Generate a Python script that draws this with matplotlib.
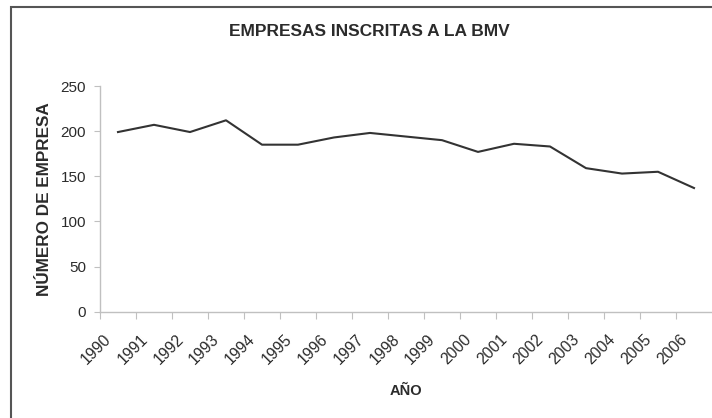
import numpy as np
import matplotlib
matplotlib.use("Agg")
import matplotlib.pyplot as plt
import matplotlib.transforms as mtransforms
from matplotlib.patches import Rectangle

plt.rcParams["font.family"] = ["Liberation Sans", "DejaVu Sans"]

# data
years = [str(y) for y in range(1990, 2007)]
empresas = [199, 207, 199, 212, 185, 185, 193, 198, 194, 190,
            177, 186, 183, 159, 153, 155, 137]

text_col = "#2b2b2b"
axis_col = "#c0c0c0"

fig = plt.figure(figsize=(7.12, 4.18), dpi=100)
ax = fig.add_axes([100 / 712, 1 - 311.7 / 418, 612 / 712, (311.7 - 86) / 418])

# category axis: points sit in the middle of each category
x = np.arange(len(years)) + 0.5
ax.plot(x, empresas, color="#333333", lw=1.5)

ax.set_xlim(0, len(years))
ax.set_ylim(0, 250)
ax.set_yticks(range(0, 251, 50))

ax.set_xticks(range(len(years)))
ax.set_xticklabels([])
ax.set_xticks(x, minor=True)
ax.set_xticklabels(years, minor=True)

for side in ["top", "right"]:
    ax.spines[side].set_visible(False)
for side in ["left", "bottom"]:
    ax.spines[side].set_color(axis_col)
    ax.spines[side].set_linewidth(1.0)

ax.tick_params(axis="y", which="major", length=4, color=axis_col, labelsize=11,
               labelcolor=text_col, pad=6)
ax.tick_params(axis="x", which="major", length=5, color=axis_col)
ax.tick_params(axis="x", which="minor", length=0, labelsize=11.3,
               labelcolor=text_col, pad=18)

offset = mtransforms.ScaledTranslation(-9 / 100, 0, fig.dpi_scale_trans)
for lab in ax.get_xticklabels(minor=True):
    lab.set_rotation(45)
    lab.set_ha("right")
    lab.set_va("center")
    lab.set_rotation_mode("anchor")
    lab.set_transform(lab.get_transform() + offset)

ax.set_ylabel("NÚMERO DE EMPRESA", fontsize=12.3, fontweight="bold",
              color=text_col, labelpad=6)
ax.set_xlabel("AÑO", fontsize=10.5, fontweight="bold", color=text_col, labelpad=12)

fig.text(369 / 712, 1 - 31 / 418, "EMPRESAS INSCRITAS A LA BMV", ha="center",
         va="center", fontsize=12.5, fontweight="bold", color=text_col)

# chart area border (runs off the right and bottom of the image)
fig.patches.append(Rectangle((11 / 712, -0.1), 2, 1 - 7 / 418 + 0.1,
                             transform=fig.transFigure, fill=False,
                             edgecolor="#555555", lw=1.5))

fig.savefig("out.png", dpi=100)
